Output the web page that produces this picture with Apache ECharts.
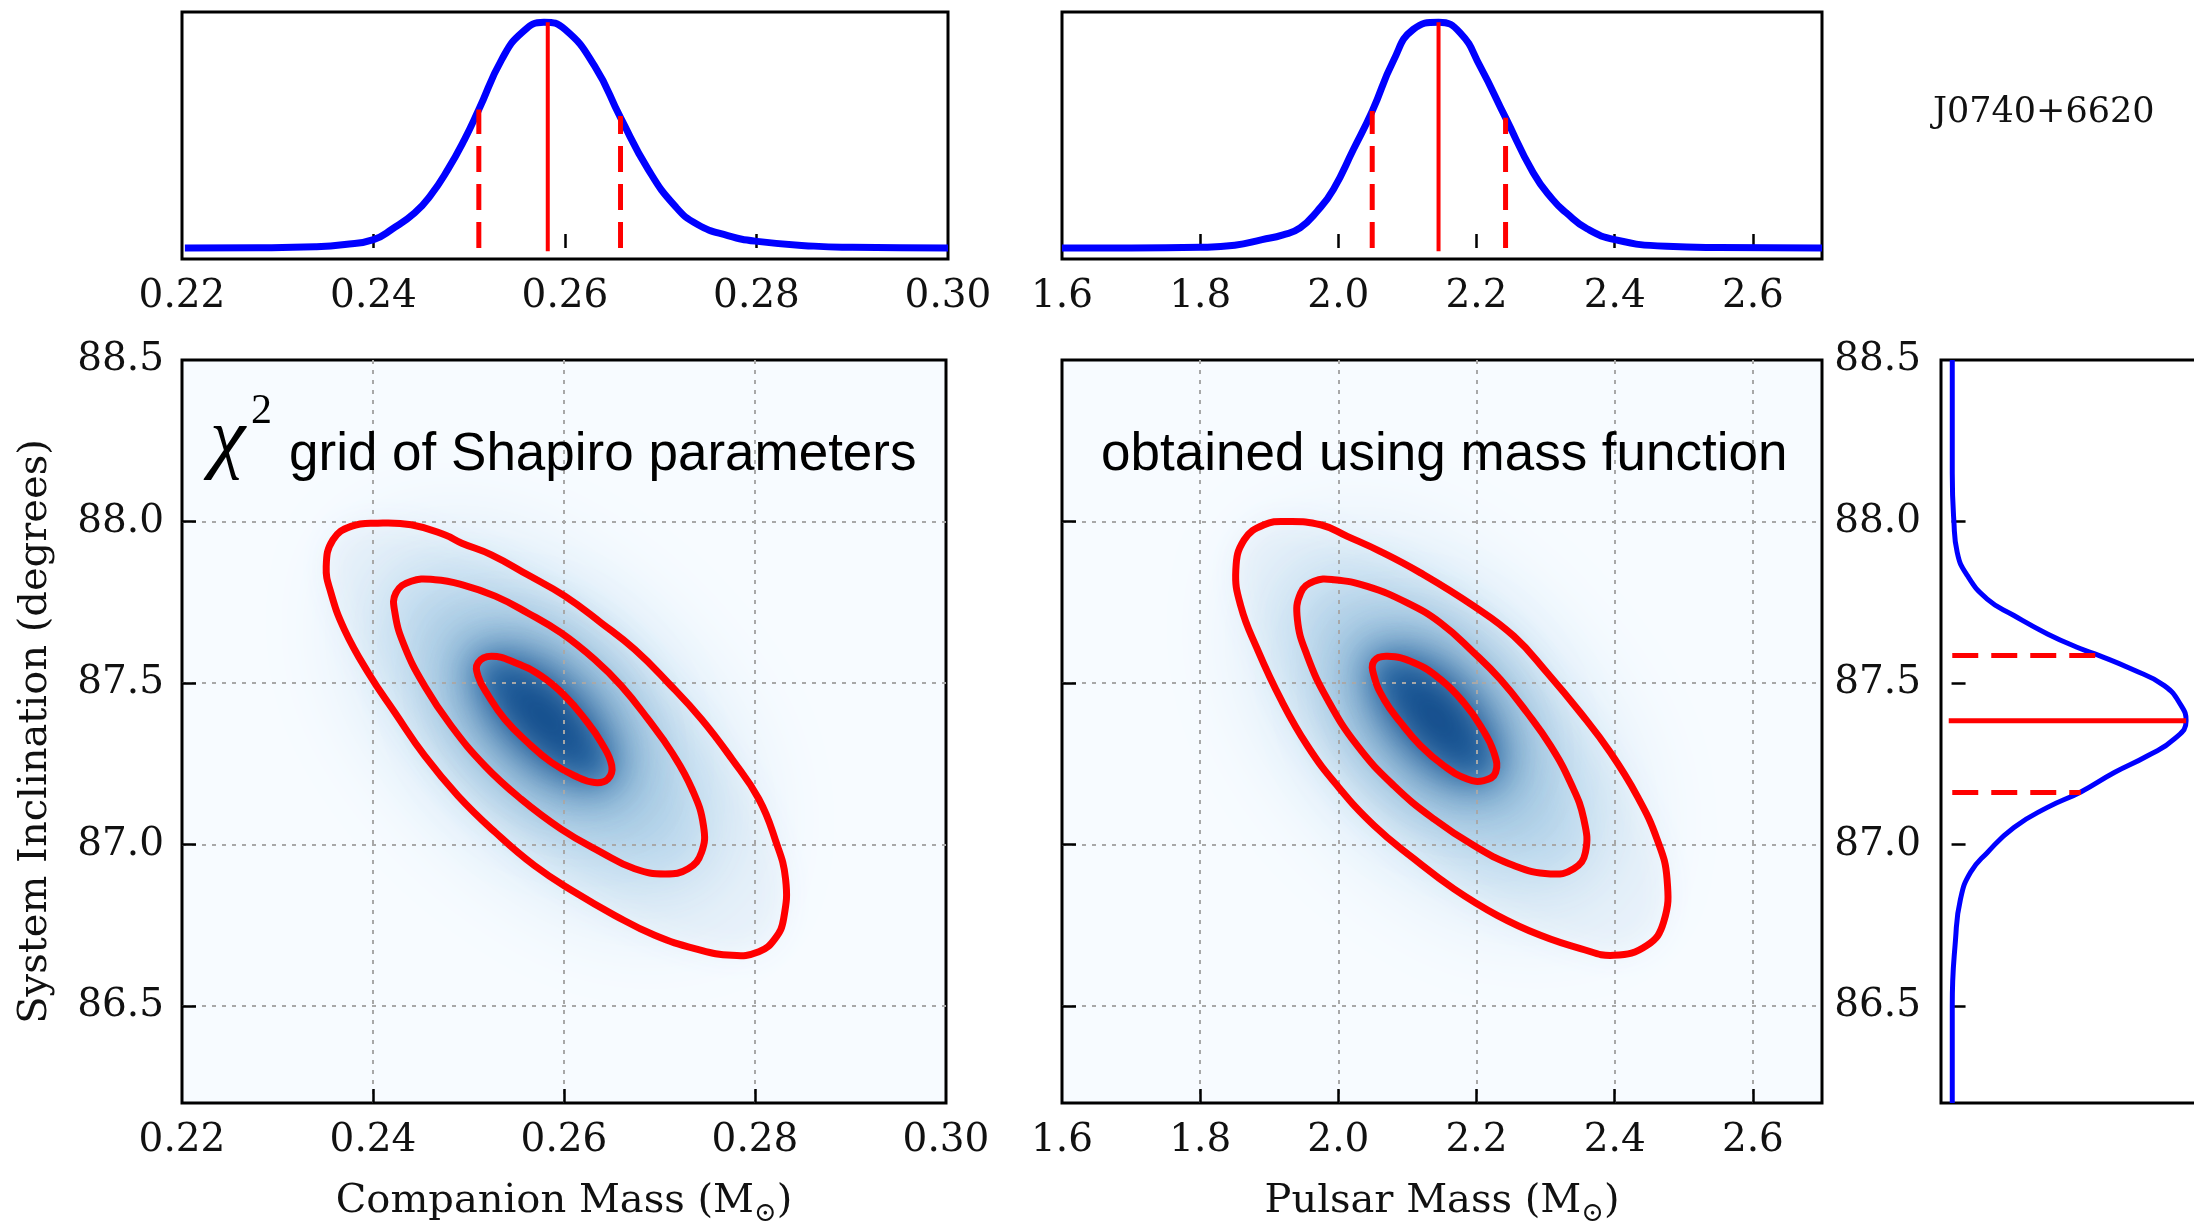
<!DOCTYPE html>
<html><head><meta charset="utf-8">
<script src="https://cdn.jsdelivr.net/npm/echarts@6/dist/echarts.min.js"></script>
<style>html,body{margin:0;padding:0;background:#fff}#c{width:2194px;height:1221px}</style>
</head><body><div id="c"></div>
<script>
// ---------- tick labels ----------
const mcTickLabels = [0.22, 0.24, 0.26, 0.28, 0.30];
const mcTicks = [0.24, 0.26, 0.28];
const mpTickLabels = [1.6, 1.8, 2.0, 2.2, 2.4, 2.6];
const mpTicks = [1.8, 2.0, 2.2, 2.4, 2.6];
const incTickLabels = [86.5, 87.0, 87.5, 88.0, 88.5];
const incTicks = [86.5, 87.0, 87.5, 88.0];

// ---------- marginal: companion mass ----------
const mcX = [0.2203, 0.2280, 0.2339, 0.2370, 0.2400, 0.2420, 0.2443, 0.2460, 0.2478, 0.2495, 0.2510, 0.2534, 0.2555, 0.2578, 0.2600, 0.2631, 0.2658, 0.2687, 0.2715, 0.2738, 0.2770, 0.2801, 0.2860, 0.2900, 0.3000];
const mcY = [0.000, 0.001, 0.005, 0.015, 0.037, 0.085, 0.155, 0.235, 0.350, 0.480, 0.613, 0.835, 0.954, 1.000, 0.968, 0.805, 0.577, 0.347, 0.185, 0.105, 0.055, 0.029, 0.008, 0.003, 0.000];
const mcMarks = [0.2510, 0.2582, 0.2658];   // lower, median, upper
const mcMarkTop = [0.613, 1.000, 0.584];

// ---------- marginal: pulsar mass ----------
const mpX = [1.600, 1.700, 1.800, 1.8500, 1.8897, 1.9200, 1.9446, 1.9700, 1.9928, 2.0217, 2.049, 2.0795, 2.1084, 2.145, 2.176, 2.205, 2.242, 2.282, 2.310, 2.330, 2.360, 2.400, 2.475, 2.550, 2.700];
const mpY = [0.000, 0.000, 0.003, 0.012, 0.037, 0.058, 0.089, 0.165, 0.259, 0.436, 0.606, 0.828, 0.968, 1.000, 0.954, 0.805, 0.577, 0.333, 0.215, 0.155, 0.085, 0.037, 0.007, 0.002, 0.000];
const mpMarks = [2.049, 2.145, 2.242];
const mpMarkTop = [0.606, 1.000, 0.577];

// ---------- marginal: inclination ----------
const incY = [88.50, 88.15, 88.00, 87.905, 87.833, 87.760, 87.709, 87.652, 87.606, 87.585, 87.544, 87.492, 87.430, 87.383, 87.327, 87.275, 87.223, 87.163, 87.115, 87.053, 86.975, 86.914, 86.831, 86.707, 86.50, 86.20];
const incD = [0.003, 0.003, 0.010, 0.024, 0.067, 0.152, 0.266, 0.409, 0.551, 0.630, 0.765, 0.907, 0.979, 1.000, 0.950, 0.836, 0.694, 0.551, 0.409, 0.266, 0.152, 0.081, 0.038, 0.017, 0.003, 0.003];
const incMarks = [87.161, 87.383, 87.585];
const incMarkLen = [0.551, 1.000, 0.630];

// ---------- chi^2 contours: companion mass vs inclination ----------
const mcOuter = [[0.2405,87.995],[0.2440,87.990],[0.2475,87.959],[0.2493,87.933],[0.2524,87.897],[0.2562,87.835],[0.2601,87.769],[0.2639,87.686],[0.2674,87.604],[0.2709,87.501],[0.2744,87.388],[0.2776,87.264],[0.2804,87.141],[0.2821,87.017],[0.2832,86.894],[0.2830,86.771],[0.2821,86.709],[0.2804,86.668],[0.2776,86.657],[0.2737,86.678],[0.2695,86.719],[0.2653,86.781],[0.2611,86.853],[0.2569,86.935],[0.2528,87.038],[0.2489,87.151],[0.2454,87.275],[0.2423,87.408],[0.2395,87.532],[0.2370,87.666],[0.2356,87.779],[0.2351,87.861],[0.2358,87.943],[0.2377,87.985]];
const mcMiddle = [[0.2465,87.820],[0.2493,87.805],[0.2528,87.769],[0.2562,87.717],[0.2597,87.655],[0.2632,87.573],[0.2660,87.491],[0.2688,87.388],[0.2713,87.285],[0.2734,87.172],[0.2746,87.059],[0.2744,86.976],[0.2730,86.925],[0.2706,86.909],[0.2674,86.925],[0.2639,86.976],[0.2597,87.048],[0.2555,87.141],[0.2517,87.244],[0.2482,87.367],[0.2454,87.491],[0.2433,87.614],[0.2423,87.717],[0.2424,87.779],[0.2440,87.815]];
const mcInner = [[0.2524,87.583],[0.2549,87.563],[0.2576,87.522],[0.2601,87.460],[0.2622,87.388],[0.2639,87.316],[0.2650,87.244],[0.2646,87.203],[0.2632,87.192],[0.2611,87.213],[0.2587,87.254],[0.2562,87.316],[0.2538,87.388],[0.2521,87.460],[0.2510,87.522],[0.2510,87.563]];
const mcPeak = [0.2576, 87.408];

// ---------- chi^2 contours: pulsar mass vs inclination ----------
const mpOuter = [[1.9263,88.000],[1.9745,87.990],[2.0130,87.954],[2.0612,87.907],[2.1190,87.841],[2.1961,87.738],[2.2540,87.645],[2.3022,87.532],[2.3504,87.408],[2.3937,87.285],[2.4323,87.151],[2.4612,87.017],[2.4757,86.894],[2.4708,86.760],[2.4467,86.688],[2.3986,86.657],[2.3504,86.678],[2.2925,86.719],[2.2299,86.781],[2.1672,86.863],[2.1094,86.956],[2.0516,87.059],[1.9986,87.182],[1.9552,87.306],[1.9166,87.450],[1.8829,87.604],[1.8588,87.738],[1.8516,87.851],[1.8636,87.943],[1.8925,87.990]];
const mpMiddle = [[1.9937,87.820],[2.0419,87.799],[2.0998,87.748],[2.1480,87.686],[2.1961,87.594],[2.2347,87.511],[2.2733,87.408],[2.3070,87.306],[2.3359,87.192],[2.3552,87.079],[2.3576,86.976],[2.3407,86.925],[2.3070,86.909],[2.2540,86.935],[2.1961,86.997],[2.1383,87.079],[2.0805,87.182],[2.0275,87.306],[1.9841,87.450],[1.9552,87.583],[1.9407,87.697],[1.9455,87.779],[1.9648,87.815]];
const mpInner = [[2.0708,87.583],[2.1094,87.563],[2.1480,87.511],[2.1817,87.439],[2.2058,87.367],[2.2251,87.285],[2.2275,87.223],[2.2106,87.198],[2.1865,87.203],[2.1528,87.244],[2.1190,87.306],[2.0901,87.378],[2.0660,87.450],[2.0516,87.522],[2.0516,87.568]];
const mpPeak = [2.1383, 87.408];

// ---------- styling helpers ----------
const SERIF = 'DejaVu Serif';
const BLUE = '#0000ff', RED = '#ff0000';
const labelStyle = {fontFamily: SERIF, fontSize: 39, color: '#111'};
const tickStyle = {inside: true, length: 14, lineStyle: {color: '#000', width: 2.5}};
const gridLine = {show: true, lineStyle: {type: [4, 6], color: '#a8a8a8', width: 2}};
const frame = {show: true, borderColor: '#000', borderWidth: 3, outerBoundsMode: 'none'};

function vline(gi, x, y0, y1, dashed, w) {
  return {type: 'line', xAxisIndex: gi, yAxisIndex: gi, data: [[x, y0], [x, y1]], symbol: 'none', z: 5,
    lineStyle: {color: RED, width: w, type: dashed ? [26, 12] : 'solid'}, silent: true};
}
function hline(gi, y, x0, x1, dashed, w) {
  return {type: 'line', xAxisIndex: gi, yAxisIndex: gi, data: [[x0, y], [x1, y]], symbol: 'none', z: 5,
    lineStyle: {color: RED, width: w, type: dashed ? [26, 13] : 'solid'}, silent: true};
}
function contour(gi, peak, pts) {
  return {
    type: 'custom', xAxisIndex: gi, yAxisIndex: gi, coordinateSystem: 'cartesian2d',
    data: [peak.slice()], encode: {x: 0, y: 1}, clip: false, silent: true, z: 6,
    renderItem: function (params, api) {
      return {type: 'polygon', shape: {points: pts.map(p => api.coord(p)), smooth: 0.45},
        style: {fill: 'none', stroke: RED, lineWidth: 7, lineJoin: 'round'}};
    }
  };
}
function shading(gi, peak, outer, middle, inner) {
  const layers = [
    {poly: outer,  color: '#ebf3fb', blur: 30},
    {poly: middle, color: '#d3e4f3', blur: 50},
    {poly: middle, color: '#9dc8e3', blur: 130},
    {poly: inner,  color: '#4f9bcd', blur: 110},
    {poly: inner,  color: '#2472b4', blur: 34},
    {poly: inner,  color: 'rgba(8,48,107,0.95)', blur: 70}
  ];
  const OFF = 5000;
  return {
    type: 'custom', xAxisIndex: gi, yAxisIndex: gi, coordinateSystem: 'cartesian2d',
    data: layers.map(() => peak.slice()), encode: {x: 0, y: 1}, clip: false, silent: true, z: 1,
    renderItem: function (params, api) {
      const L = layers[params.dataIndex];
      const pts = L.poly.map(p => { const c = api.coord(p); return [c[0] - OFF, c[1]]; });
      return {type: 'polygon', shape: {points: pts, smooth: 0.45},
        style: {fill: L.color, shadowBlur: L.blur, shadowColor: L.color, shadowOffsetX: OFF, shadowOffsetY: 0}};
    }
  };
}
const zip = (a, b) => a.map((v, i) => [v, b[i]]);
const fmt = d => v => Number(v).toFixed(d);

const massName = (t) => '{n|' + t + ' (M}{s|⊙}{n|)}';
const massNameStyle = {rich: {
  n: {fontFamily: SERIF, fontSize: 40, color: '#111', verticalAlign: 'bottom', padding: [0, 0, 5, 0]},
  s: {fontFamily: SERIF, fontSize: 27, color: '#111', verticalAlign: 'bottom'}
}};

const option = {
  animation: false,
  backgroundColor: '#ffffff',
  grid: [
    Object.assign({left: 182, top: 12, width: 766, height: 247, backgroundColor: '#fff'}, frame),
    Object.assign({left: 1062, top: 12, width: 760, height: 247, backgroundColor: '#fff'}, frame),
    Object.assign({left: 182, top: 360, width: 764, height: 743, backgroundColor: '#f7fbff'}, frame),
    Object.assign({left: 1062, top: 360, width: 760, height: 743, backgroundColor: '#f7fbff'}, frame),
    Object.assign({left: 1941, top: 360, width: 258, height: 743, backgroundColor: '#fff'}, frame)
  ],
  xAxis: [
    {gridIndex: 0, type: 'value', min: 0.22, max: 0.30, axisLine: {show: false}, splitLine: {show: false},
      axisTick: Object.assign({customValues: mcTicks}, tickStyle),
      axisLabel: Object.assign({customValues: mcTickLabels, formatter: fmt(2), margin: 18}, labelStyle)},
    {gridIndex: 1, type: 'value', min: 1.6, max: 2.7, axisLine: {show: false}, splitLine: {show: false},
      axisTick: Object.assign({customValues: mpTicks}, tickStyle),
      axisLabel: Object.assign({customValues: mpTickLabels, formatter: fmt(1), margin: 18}, labelStyle)},
    {gridIndex: 2, type: 'value', min: 0.22, max: 0.30, z: 3, axisLine: {show: false}, splitLine: gridLine,
      axisTick: Object.assign({customValues: mcTicks}, tickStyle),
      axisLabel: Object.assign({customValues: mcTickLabels, formatter: fmt(2), margin: 18}, labelStyle),
      name: massName('Companion Mass'), nameLocation: 'middle', nameGap: 79, nameTextStyle: massNameStyle},
    {gridIndex: 3, type: 'value', min: 1.6, max: 2.7, z: 3, axisLine: {show: false}, splitLine: gridLine,
      axisTick: Object.assign({customValues: mpTicks}, tickStyle),
      axisLabel: Object.assign({customValues: mpTickLabels, formatter: fmt(1), margin: 18}, labelStyle),
      name: massName('Pulsar Mass'), nameLocation: 'middle', nameGap: 79, nameTextStyle: massNameStyle},
    {gridIndex: 4, type: 'value', min: -0.045, max: 1.055, show: false}
  ],
  yAxis: [
    {gridIndex: 0, type: 'value', min: -0.049, max: 1.045, show: false},
    {gridIndex: 1, type: 'value', min: -0.049, max: 1.045, show: false},
    {gridIndex: 2, type: 'value', min: 86.2, max: 88.5, z: 3, axisLine: {show: false}, splitLine: gridLine,
      axisTick: Object.assign({customValues: incTicks}, tickStyle),
      axisLabel: Object.assign({customValues: incTickLabels, formatter: fmt(1), margin: 18}, labelStyle),
      name: 'System Inclination (degrees)', nameLocation: 'middle', nameGap: 126,
      nameTextStyle: {fontFamily: SERIF, fontSize: 40, color: '#111'}},
    {gridIndex: 3, type: 'value', min: 86.2, max: 88.5, z: 3, axisLine: {show: false}, splitLine: gridLine,
      axisTick: Object.assign({customValues: incTicks}, tickStyle),
      axisLabel: {show: false}},
    {gridIndex: 4, type: 'value', min: 86.2, max: 88.5, z: 3, axisLine: {show: false}, splitLine: {show: false},
      axisTick: Object.assign({customValues: incTicks}, tickStyle),
      axisLabel: Object.assign({customValues: incTickLabels, formatter: fmt(1), margin: 20}, labelStyle)}
  ],
  series: [
    // top-left marginal
    {type: 'line', xAxisIndex: 0, yAxisIndex: 0, data: zip(mcX, mcY), symbol: 'none', smooth: 0.5, z: 4,
      lineStyle: {color: BLUE, width: 7}, silent: true},
    vline(0, mcMarks[1], -0.015, mcMarkTop[1], false, 4),
    vline(0, mcMarks[0], 0, mcMarkTop[0], true, 5),
    vline(0, mcMarks[2], 0, mcMarkTop[2], true, 5),
    // top-middle marginal
    {type: 'line', xAxisIndex: 1, yAxisIndex: 1, data: zip(mpX, mpY), symbol: 'none', smooth: 0.5, z: 4,
      lineStyle: {color: BLUE, width: 7}, silent: true},
    vline(1, mpMarks[1], -0.015, mpMarkTop[1], false, 4),
    vline(1, mpMarks[0], 0, mpMarkTop[0], true, 5),
    vline(1, mpMarks[2], 0, mpMarkTop[2], true, 5),
    // main-left
    shading(2, mcPeak, mcOuter, mcMiddle, mcInner),
    contour(2, mcPeak, mcOuter), contour(2, mcPeak, mcMiddle), contour(2, mcPeak, mcInner),
    // main-middle
    shading(3, mpPeak, mpOuter, mpMiddle, mpInner),
    contour(3, mpPeak, mpOuter), contour(3, mpPeak, mpMiddle), contour(3, mpPeak, mpInner),
    // right marginal
    {type: 'line', xAxisIndex: 4, yAxisIndex: 4, data: zip(incD, incY), symbol: 'none', smooth: 0.5, z: 4,
      lineStyle: {color: BLUE, width: 5}, silent: true},
    hline(4, incMarks[1], -0.012, incMarkLen[1], false, 5),
    hline(4, incMarks[0], 0.003, incMarkLen[0], true, 5),
    hline(4, incMarks[2], 0.003, incMarkLen[2], true, 5)
  ],
  graphic: [
    {type: 'text', z: 10, style: {x: 210, y: 442, text: 'χ', font: 'italic 80px "Liberation Serif"', fill: '#000', verticalAlign: 'middle'}},
    {type: 'text', z: 10, style: {x: 251, y: 412, text: '2', font: '42px "Liberation Serif"', fill: '#000', verticalAlign: 'middle'}},
    {type: 'text', z: 10, style: {x: 289, y: 455, text: 'grid of Shapiro parameters', font: '53px "Liberation Sans"', fill: '#000', verticalAlign: 'middle'}},
    {type: 'text', z: 10, style: {x: 1101, y: 455, text: 'obtained using mass function', font: '53px "Liberation Sans"', fill: '#000', verticalAlign: 'middle'}},
    {type: 'text', z: 10, style: {x: 1933, y: 113, text: 'J0740+6620', font: '35px "DejaVu Serif"', fill: '#111', verticalAlign: 'middle'}}
  ]
};

const chart = echarts.init(document.getElementById('c'), null, {renderer: 'canvas', width: 2194, height: 1221});
chart.setOption(option);
</script></body></html>
